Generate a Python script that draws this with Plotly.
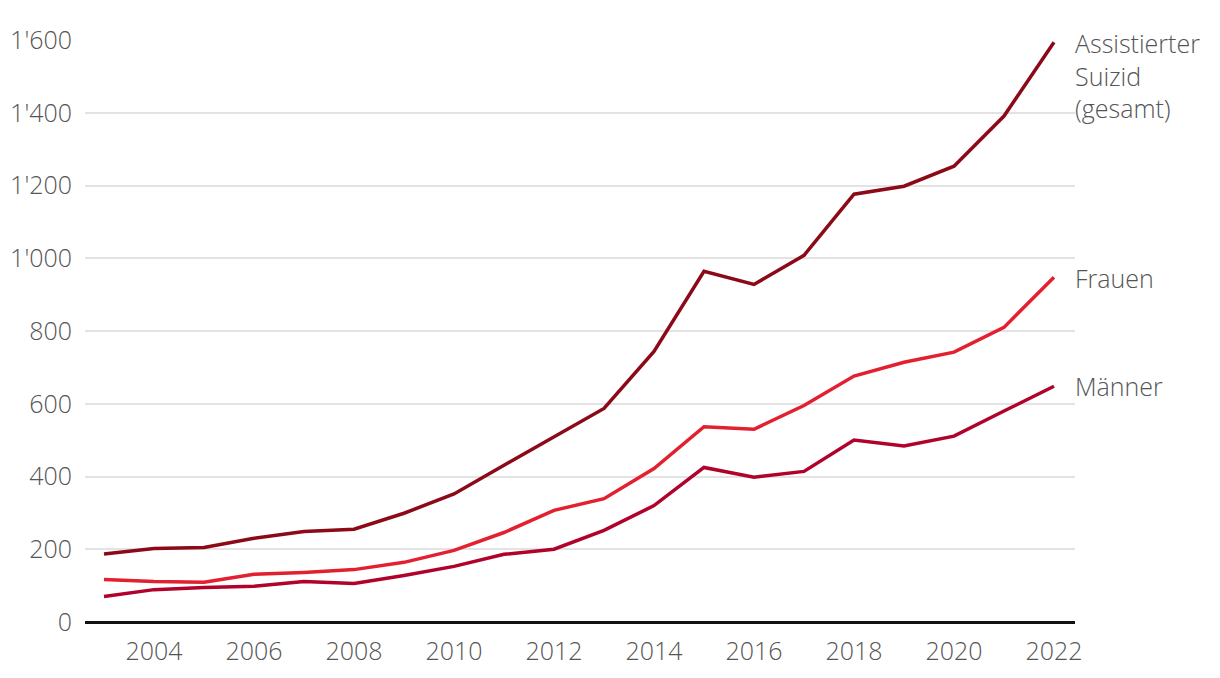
import plotly.graph_objects as go

years = list(range(2003, 2023))
gesamt = [187, 202, 205, 230, 249, 255, 299, 352, 431, 508, 587, 744, 964, 928, 1008, 1176, 1198, 1253, 1391, 1594]
frauen = [117, 111, 109, 131, 136, 144, 164, 197, 246, 307, 339, 422, 537, 530, 595, 676, 714, 742, 810, 948]
maenner = [70, 89, 95, 98, 111, 106, 128, 153, 186, 200, 252, 320, 425, 398, 414, 500, 484, 511, 580, 648]

ytick_vals = [0, 200, 400, 600, 800, 1000, 1200, 1400, 1600]
ytick_text = ["0", "200", "400", "600", "800", "1'000", "1'200", "1'400", "1'600"]
xtick_vals = [2004, 2006, 2008, 2010, 2012, 2014, 2016, 2018, 2020, 2022]

c_ges = "#8c0a18"
c_fr = "#e3202f"
c_ma = "#b0022a"
txt = "#555555"
FONT = "Open Sans"
FS = 25

fig = go.Figure()
fig.add_trace(go.Scatter(x=years, y=maenner, mode="lines", line=dict(color=c_ma, width=3.5), name="Männer"))
fig.add_trace(go.Scatter(x=years, y=frauen, mode="lines", line=dict(color=c_fr, width=3.5), name="Frauen"))
fig.add_trace(go.Scatter(x=years, y=gesamt, mode="lines", line=dict(color=c_ges, width=3.5), name="Assistierter Suizid (gesamt)"))

ann_font = dict(family=FONT, size=FS, color=txt, weight=300)
fig.add_annotation(x=1, xref="paper", y=gesamt[-1], yref="y", xanchor="left", yanchor="top",
                   text="Assistierter<br>Suizid<br>(gesamt)", showarrow=False, align="left",
                   font=ann_font, yshift=18, xshift=-2)
fig.add_annotation(x=1, xref="paper", y=frauen[-1], yref="y", xanchor="left", yanchor="middle",
                   text="Frauen", showarrow=False, align="left", font=ann_font, yshift=-1, xshift=-2)
fig.add_annotation(x=1, xref="paper", y=maenner[-1], yref="y", xanchor="left", yanchor="middle",
                   text="Männer", showarrow=False, align="left", font=ann_font, yshift=0, xshift=-2)

fig.update_layout(
    width=1220, height=678,
    margin=dict(l=77, r=153, t=32, b=64),
    paper_bgcolor="white", plot_bgcolor="white",
    showlegend=False,
    font=dict(family=FONT, size=FS, color=txt, weight=300),
)
fig.update_xaxes(range=[2002.62, 2022.42], tickvals=xtick_vals, showgrid=False, zeroline=False,
                 showline=False, ticks="", ticklabelstandoff=12, automargin=False,
                 tickfont=dict(family=FONT, size=FS, color=txt, weight=300))
fig.update_yaxes(range=[0, 1600], tickvals=ytick_vals, ticktext=ytick_text, showgrid=True,
                 gridcolor="#e3e3e3", gridwidth=1.5, zeroline=True, zerolinecolor="#111111",
                 zerolinewidth=2.5, ticks="", ticklabelstandoff=12, showline=False, automargin=False,
                 tickfont=dict(family=FONT, size=FS, color=txt, weight=300))

fig.write_html("out.html")
